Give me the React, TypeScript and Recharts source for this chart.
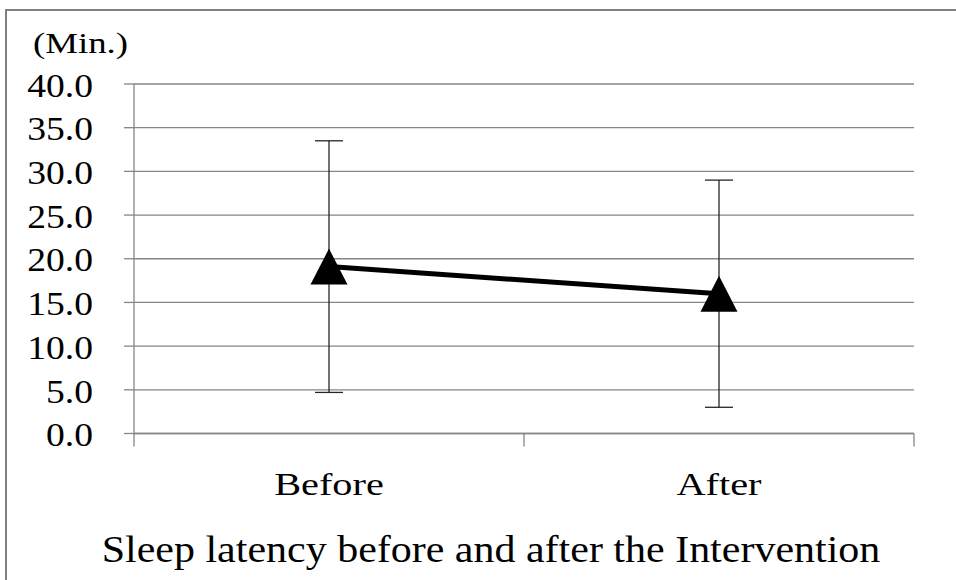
import React from 'react';
import { LineChart, Line, XAxis, YAxis, CartesianGrid, ErrorBar } from 'recharts';

// Sleep latency (minutes): mean and standard deviation per time point
const categories = ['Before', 'After'];
const meanLatency = [19.1, 16.0];
const sdLatency = [14.4, 13.0];
const yTicks = [0, 5, 10, 15, 20, 25, 30, 35, 40];
// category boundaries sit on integers, category centres on halves
const xTicks = [0, 0.5, 1, 1.5, 2];

const data = categories.map((label, i) => ({
  pos: i + 0.5,
  label,
  mean: meanLatency[i],
  sd: sdLatency[i],
}));

const FONT = '"Liberation Serif", "Times New Roman", Times, serif';
const GRID = '#868686';

const YTick = (props: any) => {
  const { x, y, payload } = props;
  return (
    <g transform={`translate(${x},${y + 12.7}) scale(1.14,1)`}>
      <text x={0} y={0} textAnchor="end" fontFamily={FONT} fontSize={33} fill="#000">
        {Number(payload.value).toFixed(1)}
      </text>
    </g>
  );
};

const XTick = (props: any) => {
  const { x, y, payload } = props;
  const v = Number(payload.value);
  if (Number.isInteger(v)) {
    return <line x1={x} x2={x} y1={y} y2={y + 13} stroke={GRID} strokeWidth={1.3} />;
  }
  const label = categories[Math.floor(v)];
  return (
    <g transform={`translate(${x},${y + 61}) scale(1.26,1)`}>
      <text x={0} y={0} textAnchor="middle" fontFamily={FONT} fontSize={32} fill="#000">
        {label}
      </text>
    </g>
  );
};

const Triangle = (props: any) => {
  const { cx, cy, index } = props;
  if (cx == null || cy == null) return <g key={`tri-${index}`} />;
  const hw = 18.5;
  const hh = 18;
  return (
    <polygon
      key={`tri-${index}`}
      points={`${cx},${cy - hh} ${cx - hw},${cy + hh} ${cx + hw},${cy + hh}`}
      fill="#000"
    />
  );
};

export default function App() {
  return (
    <div
      style={{
        position: 'absolute',
        left: 0,
        top: 0,
        width: 956,
        height: 580,
        overflow: 'hidden',
        background: '#fff',
      }}
    >
      <div
        style={{
          position: 'absolute',
          left: 5,
          top: 9,
          width: 1000,
          height: 1000,
          borderLeft: '2px solid #7f7f7f',
          borderTop: '2px solid #7f7f7f',
        }}
      />
      <div style={{ position: 'absolute', left: 0, top: 0 }}>
        <LineChart
          width={956}
          height={580}
          data={data}
          margin={{ top: 84, right: 42, left: 0, bottom: 66.5 }}
        >
          <CartesianGrid vertical={false} stroke={GRID} strokeWidth={1.3} />
          <XAxis
            dataKey="pos"
            type="number"
            domain={[0, 2]}
            ticks={xTicks}
            interval={0}
            height={80}
            tickSize={0}
            tickMargin={0}
            tickLine={false}
            axisLine={{ stroke: GRID, strokeWidth: 1.3 }}
            tick={<XTick />}
          />
          <YAxis
            type="number"
            domain={[0, 40]}
            ticks={yTicks}
            interval={0}
            width={134}
            tickSize={10}
            tickMargin={31}
            tickLine={{ stroke: GRID, strokeWidth: 1.3 }}
            axisLine={{ stroke: GRID, strokeWidth: 1.3 }}
            tick={<YTick />}
          />
          <Line
            type="linear"
            dataKey="mean"
            stroke="#000"
            strokeWidth={5}
            dot={Triangle}
            activeDot={false}
            isAnimationActive={false}
          >
            <ErrorBar
              dataKey="sd"
              direction="y"
              width={14}
              stroke="#262626"
              strokeWidth={1.3}
              isAnimationActive={false}
            />
          </Line>
        </LineChart>
      </div>
      <svg
        width={956}
        height={580}
        style={{ position: 'absolute', left: 0, top: 0, pointerEvents: 'none' }}
      >
        <g transform="translate(33,53.3) scale(1.27,1)">
          <text x={0} y={0} fontFamily={FONT} fontSize={29} fill="#000">
            (Min.)
          </text>
        </g>
        <g transform="translate(491,562) scale(1.12,1)">
          <text x={0} y={0} textAnchor="middle" fontFamily={FONT} fontSize={37.5} fill="#000">
            Sleep latency before and after the Intervention
          </text>
        </g>
      </svg>
    </div>
  );
}
